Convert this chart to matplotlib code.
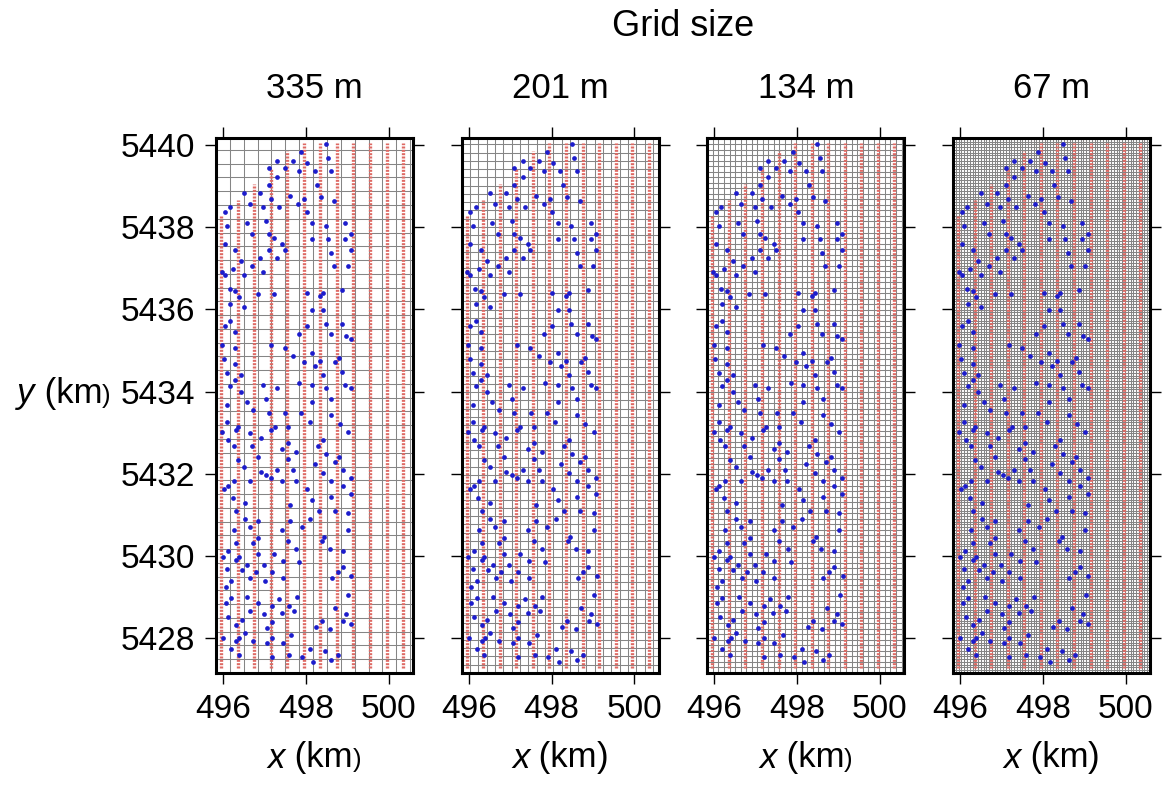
import numpy as np
import matplotlib.pyplot as plt
from matplotlib.offsetbox import TextArea, HPacker, AnchoredOffsetbox

plt.rcParams['font.family'] = ['Liberation Sans', 'DejaVu Sans']

# grid cell sizes in metres, one panel each
grid_sizes = [335, 201, 134, 67]
grid_titles = ['335 m', '201 m', '134 m', '67 m']

# flight lines: easting (km) and northern end (km), all end in the south at line_south
line_x = [495.95, 496.35, 496.75, 497.15, 497.55, 497.95,
          498.35, 498.75, 499.15, 499.55, 499.95, 500.35]
line_north = [5438.27, 5438.65, 5439.05, 5439.44, 5439.85, 5440.06,
              5440.06, 5440.06, 5440.06, 5440.06, 5440.06, 5440.06]
line_south = 5427.26

# sample locations (easting, northing) in km
sample_xy = [
    (498.49, 5440.02), (497.89, 5439.82), (498.54, 5439.69), (497.30, 5439.62),
    (497.69, 5439.62), (498.04, 5439.56), (497.10, 5439.43), (497.49, 5439.43),
    (497.83, 5439.36), (498.21, 5439.36), (498.61, 5439.36), (497.30, 5439.22),
    (497.10, 5439.02), (498.28, 5439.03), (496.51, 5438.82), (496.90, 5438.82),
    (497.63, 5438.75), (497.16, 5438.69), (497.96, 5438.69), (498.37, 5438.74),
    (498.68, 5438.64), (496.64, 5438.56), (497.82, 5438.56), (496.17, 5438.49),
    (496.97, 5438.49), (497.36, 5438.49), (496.04, 5438.37), (498.02, 5438.36),
    (497.04, 5438.16), (496.10, 5438.04), (496.57, 5438.10), (498.15, 5438.10),
    (498.48, 5438.04), (498.95, 5438.10), (496.70, 5437.84), (497.10, 5437.84),
    (499.08, 5437.84), (497.23, 5437.74), (498.15, 5437.71), (498.54, 5437.71),
    (498.95, 5437.71), (496.04, 5437.58), (497.43, 5437.58),
    (496.30, 5437.45), (497.10, 5437.45), (497.49, 5437.45), (499.08, 5437.45),
    (498.61, 5437.38), (496.90, 5437.25), (497.30, 5437.25), (496.44, 5437.18),
    (496.70, 5437.05), (498.68, 5437.05), (499.01, 5437.05), (496.24, 5436.97),
    (496.97, 5436.92), (495.97, 5436.92), (496.04, 5436.84), (496.51, 5436.84),
    (496.16, 5436.50), (496.30, 5436.44), (498.88, 5436.46), (496.84, 5436.38),
    (497.23, 5436.38), (498.02, 5436.39), (498.42, 5436.39), (498.35, 5436.33),
    (496.38, 5436.31), (496.18, 5436.12), (496.51, 5436.05), (498.15, 5435.99),
    (498.42, 5435.99), (496.18, 5435.72), (498.02, 5435.60), (496.04, 5435.60),
    (498.48, 5435.65), (498.88, 5435.65), (496.30, 5435.46), (497.83, 5435.39),
    (498.61, 5435.39), (498.97, 5435.36), (499.08, 5435.27), (495.98, 5435.13),
    (497.17, 5435.14), (496.30, 5435.06), (497.49, 5435.06),
    (497.69, 5434.86), (498.15, 5434.93), (496.02, 5434.79), (496.30, 5434.67),
    (497.96, 5434.73), (498.35, 5434.75), (498.81, 5434.81), (498.71, 5434.71),
    (498.22, 5434.61), (496.10, 5434.46), (496.44, 5434.40), (498.88, 5434.48),
    (498.42, 5434.41), (496.30, 5434.27), (497.84, 5434.21), (496.18, 5434.14),
    (496.97, 5434.15), (497.30, 5434.08), (498.15, 5434.15), (498.49, 5434.08),
    (498.95, 5434.15), (499.08, 5434.08), (496.44, 5434.00), (497.05, 5433.82),
    (498.62, 5433.82), (496.57, 5433.74), (498.15, 5433.74), (496.10, 5433.68),
    (496.72, 5433.55), (497.10, 5433.47), (497.50, 5433.47), (497.89, 5433.47),
    (498.62, 5433.42), (498.09, 5433.27), (496.10, 5433.27), (498.82, 5433.20),
    (497.25, 5433.14), (496.37, 5433.14), (496.31, 5433.07), (497.17, 5433.07),
    (497.57, 5433.14), (496.64, 5433.00), (495.98, 5433.01), (499.02, 5433.01),
    (496.91, 5432.87), (496.13, 5432.81), (498.42, 5432.81), (496.26, 5432.67),
    (496.71, 5432.68), (497.57, 5432.74), (498.29, 5432.67), (497.43, 5432.61),
    (497.76, 5432.54), (498.49, 5432.49), (496.85, 5432.41), (497.57, 5432.35),
    (496.37, 5432.33), (498.70, 5432.29), (498.22, 5432.23), (498.81, 5432.41),
    (496.51, 5432.16), (497.30, 5432.09), (497.70, 5432.09), (498.89, 5432.09),
    (496.91, 5432.03), (497.04, 5431.96), (497.16, 5431.90), (498.42, 5432.01),
    (496.26, 5431.83), (496.64, 5431.83), (497.43, 5431.83), (497.76, 5431.83),
    (498.62, 5431.83), (499.08, 5431.90), (496.12, 5431.69), (496.03, 5431.62),
    (498.89, 5431.69), (498.04, 5431.63), (499.08, 5431.50), (496.23, 5431.42),
    (498.15, 5431.37), (498.62, 5431.43), (496.52, 5431.29), (497.63, 5431.23),
    (496.31, 5431.09), (498.31, 5431.09), (498.70, 5431.10), (499.02, 5431.04),
    (496.52, 5430.89), (498.11, 5430.90), (496.85, 5430.84), (497.63, 5430.84),
    (496.64, 5430.71), (497.90, 5430.71), (496.26, 5430.64), (497.43, 5430.64),
    (499.02, 5430.64), (496.85, 5430.43), (498.45, 5430.47), (498.39, 5430.37),
    (497.57, 5430.37), (496.31, 5430.31), (496.72, 5430.31), (497.77, 5430.17),
    (498.58, 5430.17), (496.12, 5430.11), (498.89, 5430.11), (496.85, 5430.05),
    (497.24, 5430.05), (495.99, 5429.98), (496.38, 5429.98), (496.31, 5429.91),
    (497.45, 5429.88), (497.84, 5429.85), (496.98, 5429.78), (496.58, 5429.78),
    (498.89, 5429.72), (496.10, 5429.69), (496.46, 5429.65), (496.79, 5429.61),
    (497.18, 5429.61), (498.77, 5429.61),
    (496.66, 5429.45), (497.45, 5429.45), (497.01, 5429.40), (496.19, 5429.38),
    (498.63, 5429.45), (499.10, 5429.52), (496.06, 5429.24), (499.03, 5429.05),
    (496.59, 5428.99), (497.78, 5428.99), (496.19, 5428.98), (497.35, 5428.94),
    (496.06, 5428.85), (496.85, 5428.86), (497.19, 5428.79), (497.59, 5428.79),
    (498.71, 5428.73), (496.66, 5428.65), (497.72, 5428.65), (496.13, 5428.52),
    (497.00, 5428.58), (497.42, 5428.61), (498.96, 5428.59), (496.45, 5428.45),
    (497.19, 5428.39), (498.38, 5428.41), (498.90, 5428.41), (496.32, 5428.32),
    (499.09, 5428.34), (498.25, 5428.26), (497.06, 5428.25), (498.59, 5428.21),
    (496.52, 5428.12), (497.65, 5428.07), (496.00, 5427.99), (496.39, 5427.99),
    (497.19, 5427.99), (496.32, 5427.93), (496.73, 5427.93), (497.06, 5427.87),
    (497.45, 5427.87), (496.19, 5427.73), (498.11, 5427.73), (498.46, 5427.69),
    (496.38, 5427.60), (497.59, 5427.60), (498.77, 5427.60), (497.19, 5427.54),
    (497.92, 5427.54), (498.62, 5427.46), (498.17, 5427.41),
]

xlim = (495.83, 500.59)
ylim = (5427.15, 5440.17)
xticks = [496, 498, 500]
yticks = [5428, 5430, 5432, 5434, 5436, 5438, 5440]

W, H = 1164, 795
fig = plt.figure(figsize=(W / 100, H / 100), dpi=100)

px, py = zip(*sample_xy)
TICK_FS = 24
LABEL_FS = 25


def unit_label(xf, yf, var, small_paren):
    # "x (km)" style label, the closing bracket optionally set smaller
    parts = [TextArea(var, textprops=dict(fontsize=LABEL_FS, style='italic')),
             TextArea(' (km', textprops=dict(fontsize=LABEL_FS)),
             TextArea(')', textprops=dict(fontsize=LABEL_FS * 0.75 if small_paren else LABEL_FS))]
    box = HPacker(children=parts, align='baseline', pad=0, sep=0)
    ab = AnchoredOffsetbox(loc='center', child=box, frameon=False, pad=0, borderpad=0,
                           bbox_to_anchor=(xf, yf), bbox_transform=fig.transFigure)
    fig.add_artist(ab)


for i, (gs, title) in enumerate(zip(grid_sizes, grid_titles)):
    left = 216 + 245.7 * i
    ax = fig.add_axes([left / W, (H - 673) / H, 197 / W, 535 / H])
    ax.set_xlim(*xlim)
    ax.set_ylim(*ylim)

    step = gs / 1000.0
    ax.vlines(np.arange(xlim[0], xlim[1], step), ylim[0], ylim[1],
              colors='#858585', lw=0.75, zorder=1)
    ax.hlines(np.arange(ylim[0], ylim[1], step), xlim[0], xlim[1],
              colors='#858585', lw=0.75, zorder=1)

    ax.vlines(line_x, line_south, line_north, colors='#de6a64',
              linestyles=(0, (0.6, 0.4)), lw=2.4, zorder=2)

    ax.plot(px, py, 'o', ms=3.4, color='#1c1ccc', mec='none', zorder=3)

    ax.set_xticks(xticks)
    ax.set_yticks(yticks)
    ax.tick_params(direction='out', length=8, width=1, top=True, right=True,
                   labelsize=TICK_FS, pad=7, labelleft=(i == 0))
    for sp in ax.spines.values():
        sp.set_linewidth(2.2)

    cx = (left + 98.5) / W
    fig.text(cx, 1 - 88 / H, title, ha='center', va='center', fontsize=LABEL_FS)
    unit_label(cx, 1 - 758 / H, 'x', small_paren=(i % 2 == 0))

fig.text(683 / W, 1 - 27 / H, 'Grid size', ha='center', va='center', fontsize=26)
unit_label(64 / W, 1 - 393 / H, 'y', small_paren=True)

fig.savefig('out.png', dpi=100)
